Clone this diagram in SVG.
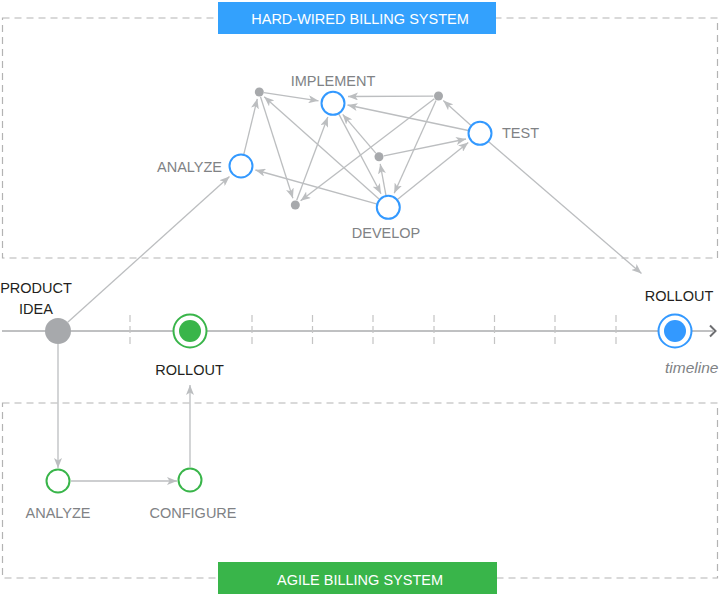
<svg xmlns="http://www.w3.org/2000/svg" width="720" height="608" viewBox="0 0 720 608">
<style>
.box{fill:none;stroke:#b3b3b3;stroke-width:1.2;stroke-dasharray:7 5}
.tick{stroke:#c4c4c4;stroke-width:1.2;stroke-dasharray:7 4}
.edge{fill:none;stroke:#bcbec0;stroke-width:1.3;marker-end:url(#ah)}
.lbl{font-family:"Liberation Sans",Arial,sans-serif;font-size:14.5px;fill:#808285}
.blk{font-family:"Liberation Sans",Arial,sans-serif;font-size:14.5px;fill:#231f20}
.ban{font-family:"Liberation Sans",Arial,sans-serif;font-size:14.5px;fill:#ffffff}
.bn{fill:#ffffff;stroke:#3399ff;stroke-width:2}
.gn{fill:#ffffff;stroke:#39b54a;stroke-width:2}
.dot{fill:#a7a9ac}
</style>
<defs>
<marker id="ah" viewBox="0 0 10 8" refX="10" refY="4" markerWidth="10" markerHeight="8" markerUnits="userSpaceOnUse" orient="auto">
<path d="M0,0 L10,4 L0,8 L2.5,4 z" fill="#bcbec0"/>
</marker>
</defs>
<rect width="720" height="608" fill="#ffffff"/>
<g id="frames">
<rect class="box" x="2.5" y="18" width="715" height="240"/>
<rect class="box" x="2.5" y="403" width="715" height="175"/>
</g>
<g id="banner-hard">
<rect x="218" y="2" width="278" height="32" fill="#33a1fd"/>
<text class="ban" x="360" y="24" text-anchor="middle">HARD-WIRED BILLING SYSTEM</text>
</g>
<g id="banner-agile">
<rect x="218" y="562" width="279" height="32" fill="#39b54a"/>
<text class="ban" x="360" y="585" text-anchor="middle">AGILE BILLING SYSTEM</text>
</g>
<g id="timeline">
<line x1="2" y1="331" x2="713" y2="331" stroke="#808285" stroke-width="1"/>
<polyline points="710,325.5 715.5,331 710,336.5" fill="none" stroke="#6d6e71" stroke-width="2"/>
<line class="tick" x1="130" y1="315" x2="130" y2="347"/>
<line class="tick" x1="252" y1="315" x2="252" y2="347"/>
<line class="tick" x1="312.5" y1="315" x2="312.5" y2="347"/>
<line class="tick" x1="373" y1="315" x2="373" y2="347"/>
<line class="tick" x1="434" y1="315" x2="434" y2="347"/>
<line class="tick" x1="494.5" y1="315" x2="494.5" y2="347"/>
<line class="tick" x1="555" y1="315" x2="555" y2="347"/>
<line class="tick" x1="616" y1="315" x2="616" y2="347"/>
<text x="665" y="373" font-family="Liberation Sans, Arial, sans-serif" font-size="15.5" font-style="italic" fill="#808285">timeline</text>
</g>
<g id="connectors">
<line class="edge" x1="67.7" y1="322.3" x2="229.5" y2="176.5"/>
<line class="edge" x1="243.8" y1="154.3" x2="257.3" y2="98.8"/>
<line class="edge" x1="264" y1="92.7" x2="318.5" y2="100.8"/>
<line class="edge" x1="260.5" y1="96.8" x2="292.9" y2="198.3"/>
<line class="edge" x1="296.7" y1="200.3" x2="327.8" y2="117.1"/>
<line class="edge" x1="379" y1="199" x2="264.2" y2="96.7"/>
<line class="edge" x1="338.6" y1="113.6" x2="381" y2="193.7"/>
<line class="edge" x1="376.4" y1="203.8" x2="255.4" y2="170"/>
<line class="edge" x1="433.5" y1="96.2" x2="348" y2="96.5"/>
<line class="edge" x1="468.3" y1="130.5" x2="347.5" y2="105"/>
<line class="edge" x1="434.4" y1="98.7" x2="300.6" y2="200.8"/>
<line class="edge" x1="436" y1="100.6" x2="394.2" y2="193.3"/>
<line class="edge" x1="471" y1="125.4" x2="443.3" y2="100.6"/>
<line class="edge" x1="383.9" y1="155.8" x2="466" y2="139"/>
<line class="edge" x1="385.9" y1="195.2" x2="380.2" y2="163.9"/>
<line class="edge" x1="375.8" y1="153.2" x2="342.7" y2="114.4"/>
<line class="edge" x1="397.4" y1="199.5" x2="468.3" y2="142.4"/>
<line class="edge" x1="488.4" y1="141.5" x2="641.5" y2="273.5"/>
<line class="edge" x1="58" y1="344" x2="58" y2="468"/>
<line class="edge" x1="71" y1="481" x2="177" y2="481"/>
<line class="edge" x1="190" y1="467" x2="190" y2="385"/>
</g>
<g id="product-idea">
<circle class="dot" cx="58" cy="331" r="13"/>
<text class="blk" x="36" y="293" text-anchor="middle">PRODUCT</text>
<text class="blk" x="36" y="313.5" text-anchor="middle">IDEA</text>
</g>
<g id="rollout-agile">
<circle cx="190" cy="331" r="16.5" fill="#ffffff" stroke="#39b54a" stroke-width="2"/>
<circle cx="190" cy="331" r="11" fill="#39b54a"/>
<text class="blk" x="189.5" y="375" text-anchor="middle">ROLLOUT</text>
</g>
<g id="rollout-hard">
<circle cx="675" cy="331" r="16.5" fill="#ffffff" stroke="#3399ff" stroke-width="2"/>
<circle cx="675" cy="331" r="11" fill="#3399ff"/>
<text class="blk" x="679" y="300.5" text-anchor="middle">ROLLOUT</text>
</g>
<g id="hw-analyze">
<circle class="bn" cx="241" cy="166" r="11.5"/>
<text class="lbl" x="222" y="171.5" text-anchor="end">ANALYZE</text>
</g>
<g id="hw-implement">
<circle class="bn" cx="333" cy="103.3" r="11.5"/>
<text class="lbl" x="333" y="86" text-anchor="middle">IMPLEMENT</text>
</g>
<g id="hw-test">
<circle class="bn" cx="480" cy="133.3" r="11.5"/>
<text class="lbl" x="502" y="137.5">TEST</text>
</g>
<g id="hw-develop">
<circle class="bn" cx="388.3" cy="207.3" r="11.5"/>
<text class="lbl" x="386" y="238" text-anchor="middle">DEVELOP</text>
</g>
<g id="hw-dot-1"><circle class="dot" cx="259.3" cy="92" r="4.5"/></g>
<g id="hw-dot-2"><circle class="dot" cx="438.5" cy="96" r="4.5"/></g>
<g id="hw-dot-3"><circle class="dot" cx="379" cy="156.7" r="4.5"/></g>
<g id="hw-dot-4"><circle class="dot" cx="295.3" cy="205" r="4.5"/></g>
<g id="ag-analyze">
<circle class="gn" cx="58" cy="481" r="11.5"/>
<text class="lbl" x="58" y="518.3" text-anchor="middle">ANALYZE</text>
</g>
<g id="ag-configure">
<circle class="gn" cx="190" cy="480" r="11.5"/>
<text class="lbl" x="193" y="518.3" text-anchor="middle">CONFIGURE</text>
</g>
</svg>
